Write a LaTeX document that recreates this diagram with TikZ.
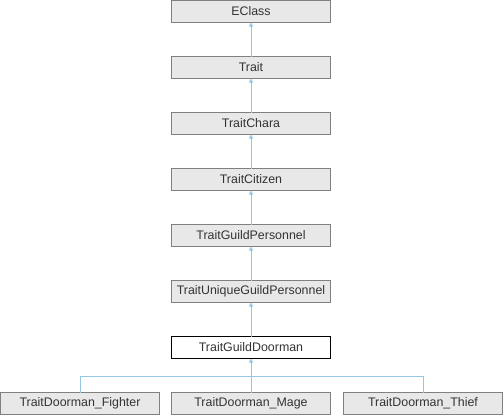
\documentclass[tikz,border=0pt]{standalone}
\usepackage{fontspec}
\setmainfont{Liberation Sans}
\usetikzlibrary{arrows.meta}
\definecolor{boxfill}{HTML}{E8E8E8}
\definecolor{boxline}{HTML}{808080}
\definecolor{edgecol}{HTML}{94C8E4}
\begin{document}
\begin{tikzpicture}[x=1pt,y=-1pt,
  cls/.style={draw=boxline,fill=boxfill,line width=1pt,minimum width=159pt,minimum height=22pt,inner sep=0pt,outer sep=0pt,font=\fontsize{12.4}{14}\selectfont,text=black!80},
  cur/.style={cls,draw=black,fill=white},
  edge/.style={draw=edgecol,line width=1pt},
  tip/.style={-{Triangle[width=4pt,length=4pt]}}]
\useasboundingbox (0,0) rectangle (503,416);
\node[cls] (eclass) at (251,11.5) {EClass};
\node[cls] (trait) at (251,67.5) {Trait};
\node[cls] (chara) at (251,123.5) {TraitChara};
\node[cls] (citizen) at (251,179.5) {TraitCitizen};
\node[cls] (gp) at (251,235.5) {TraitGuildPersonnel};
\node[cls] (ugp) at (251,291.5) {TraitUniqueGuildPersonnel};
\node[cur] (door) at (251,347.5) {TraitGuildDoorman};
\node[cls] (fighter) at (80,403.5) {TraitDoorman\_Fighter};
\node[cls] (mage) at (251,403.5) {TraitDoorman\_Mage};
\node[cls] (thief) at (423,403.5) {TraitDoorman\_Thief};
\coordinate (j) at (251,376.5);
\draw[edge,tip] (trait.north) -- (eclass.south);
\draw[edge,tip] (chara.north) -- (trait.south);
\draw[edge,tip] (citizen.north) -- (chara.south);
\draw[edge,tip] (gp.north) -- (citizen.south);
\draw[edge,tip] (ugp.north) -- (gp.south);
\draw[edge,tip] (door.north) -- (ugp.south);
\draw[edge,tip] (mage.north) -- (door.south);
\draw[edge] (fighter.north) |- (j);
\draw[edge] (thief.north) |- (j);
\end{tikzpicture}
\end{document}
